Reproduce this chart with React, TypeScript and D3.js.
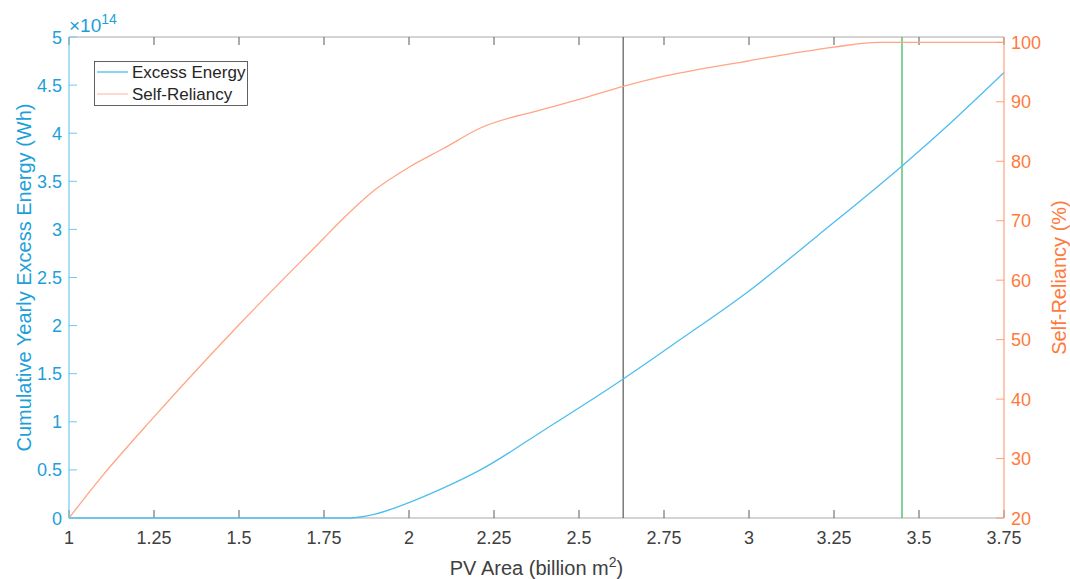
import React from "react";
import * as d3 from "d3";

// PV area (billion m^2) samples for each curve
const srArea = [1.0, 1.1, 1.25, 1.5, 1.75, 1.8, 1.9, 2.0, 2.1, 2.21, 2.385, 2.5, 2.63, 2.75, 3.0, 3.25, 3.38, 3.75];
const selfReliancy = [20, 27.2, 37.0, 52.5, 67.1, 70.0, 75.2, 79.0, 82.1, 85.6, 88.6, 90.4, 92.6, 94.3, 96.9, 99.2, 100, 100];

const exArea = [1.0, 1.826, 1.9, 2.0, 2.1, 2.21, 2.4, 2.628, 2.8, 3.0, 3.2, 3.45, 3.6, 3.75];
const excessEnergy = [0, 0, 0.04, 0.16, 0.31, 0.5, 0.92, 1.44, 1.86, 2.36, 2.93, 3.66, 4.13, 4.63]; // x1e14 Wh

const xTicks = [1, 1.25, 1.5, 1.75, 2, 2.25, 2.5, 2.75, 3, 3.25, 3.5, 3.75];
const leftTicks = [0, 0.5, 1, 1.5, 2, 2.5, 3, 3.5, 4, 4.5, 5];
const rightTicks = [20, 30, 40, 50, 60, 70, 80, 90, 100];
const markerLines = [
  { x: 2.63, color: "#666666" },
  { x: 3.45, color: "#3dbb5f" },
];

const W = 1070, H = 579;
const m = { left: 69, right: 1004, top: 37, bottom: 518 };

const blueText = "#1d9fd9", blueAxis = "#72c9ef";
const orangeText = "#ff7a3c", orangeAxis = "#ffa07c";
const grayAxis = "#a9a9a9", tickGray = "#5a5a5a", labelGray = "#404040";
const font = "Arial, 'Liberation Sans', Helvetica, sans-serif";

const fmt = (d: number) => String(d);

export default function App() {
  const x = d3.scaleLinear().domain([1, 3.75]).range([m.left, m.right]);
  const yL = d3.scaleLinear().domain([0, 5]).range([m.bottom, m.top]);
  const yR = d3.scaleLinear().domain([20, 100.9]).range([m.bottom, m.top]);

  const exLine = d3.line<number>()
    .x((_, i) => x(exArea[i]))
    .y(d => yL(d))
    .curve(d3.curveMonotoneX)(excessEnergy) || "";
  const srLine = d3.line<number>()
    .x((_, i) => x(srArea[i]))
    .y(d => yR(d))
    .curve(d3.curveMonotoneX)(selfReliancy) || "";

  const tickLen = 8;

  return (
    <div style={{ position: "absolute", left: 0, top: 0 }}>
      <svg width={W} height={H} style={{ display: "block", fontFamily: font }}>
        <rect width={W} height={H} fill="#fff" />

        {/* box top / bottom */}
        <line x1={m.left} x2={m.right} y1={m.top} y2={m.top} stroke={grayAxis} />
        <line x1={m.left} x2={m.right} y1={m.bottom} y2={m.bottom} stroke={grayAxis} />

        {/* x ticks bottom + top */}
        {xTicks.map(t => (
          <g key={"xt" + t}>
            <line x1={x(t)} x2={x(t)} y1={m.bottom} y2={m.bottom - tickLen} stroke={tickGray} />
            <line x1={x(t)} x2={x(t)} y1={m.top} y2={m.top + tickLen} stroke={tickGray} />
            <text x={x(t)} y={m.bottom + 26} textAnchor="middle" fontSize={18} fill={labelGray}>{fmt(t)}</text>
          </g>
        ))}

        {/* vertical markers */}
        {markerLines.map(v => (
          <line key={"v" + v.x} x1={x(v.x)} x2={x(v.x)} y1={m.top} y2={m.bottom} stroke={v.color} strokeWidth={1.3} />
        ))}

        {/* data lines */}
        <path d={srLine} fill="none" stroke="#ffa584" strokeWidth={1.3} />
        <path d={exLine} fill="none" stroke="#4dbeee" strokeWidth={1.3} />

        {/* left axis */}
        <line x1={m.left} x2={m.left} y1={m.top} y2={m.bottom} stroke={blueAxis} strokeWidth={1.2} />
        {leftTicks.map(t => (
          <g key={"yl" + t}>
            <line x1={m.left} x2={m.left + tickLen} y1={yL(t)} y2={yL(t)} stroke={blueAxis} />
            <text x={m.left - 7} y={yL(t) + 6.5} textAnchor="end" fontSize={18} fill={blueText}>{fmt(t)}</text>
          </g>
        ))}
        <text x={69} y={32} fontSize={19} fill={blueText}>
          ×10<tspan dy={-8} fontSize={14}>14</tspan>
        </text>
        <text transform={`translate(31,${(m.top + m.bottom) / 2}) rotate(-90)`} textAnchor="middle" fontSize={20} fill={blueText}>
          Cumulative Yearly Excess Energy (Wh)
        </text>

        {/* right axis */}
        <line x1={m.right} x2={m.right} y1={m.top} y2={m.bottom} stroke={orangeAxis} strokeWidth={1.2} />
        {rightTicks.map(t => (
          <g key={"yr" + t}>
            <line x1={m.right} x2={m.right - tickLen} y1={yR(t)} y2={yR(t)} stroke={orangeAxis} />
            <text x={m.right + 7} y={yR(t) + 6.5} textAnchor="start" fontSize={18} fill={orangeText}>{fmt(t)}</text>
          </g>
        ))}
        <text transform={`translate(1066,${(m.top + m.bottom) / 2}) rotate(-90)`} textAnchor="middle" fontSize={20} fill={orangeText}>
          Self-Reliancy (%)
        </text>

        {/* x label */}
        <text x={(m.left + m.right) / 2} y={575} textAnchor="middle" fontSize={20} fill={labelGray}>
          PV Area (billion m<tspan dy={-8} fontSize={14}>2</tspan><tspan dy={8}>)</tspan>
        </text>

        {/* legend */}
        <rect x={94.5} y={61.5} width={153} height={44} fill="#fff" stroke="#3a3a3a" strokeWidth={0.8} />
        <line x1={97} x2={128} y1={72} y2={72} stroke="#4dbeee" strokeWidth={1.3} />
        <text x={132} y={78} fontSize={17} fill="#262626">Excess Energy</text>
        <line x1={97} x2={128} y1={94} y2={94} stroke="#ffc4b0" strokeWidth={1.3} />
        <text x={132} y={100} fontSize={17} fill="#262626">Self-Reliancy</text>
      </svg>
    </div>
  );
}
